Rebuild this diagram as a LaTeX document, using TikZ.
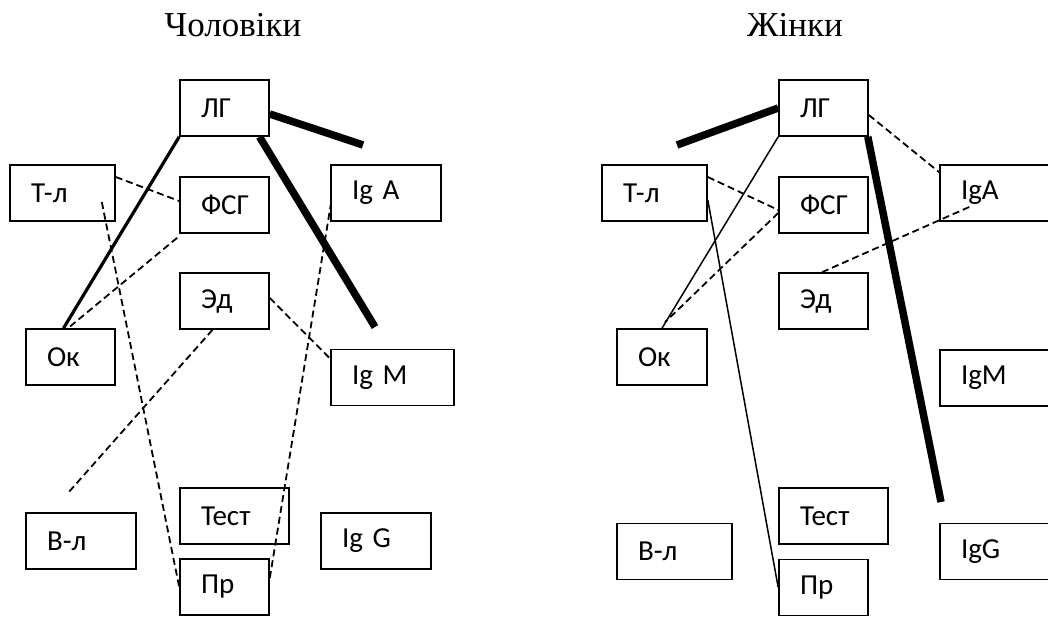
\documentclass[tikz,border=0pt]{standalone}
\usepackage{fontspec}
\setmainfont{Liberation Serif}
\newfontfamily\boxfont{Carlito}
\begin{document}
\begin{tikzpicture}[x=1bp,y=-1bp,
  bx/.style={draw, line width=1.6bp, minimum height=56bp, inner ysep=0pt, inner xsep=21bp, font=\boxfont\fontsize{29bp}{32bp}\selectfont, align=left},
  w89/.style={text width=47bp}, w105/.style={text width=63bp}, w110/.style={text width=68bp},
  w123/.style={text width=81bp}, w109/.style={text width=67bp}, w120/.style={text width=78bp},
  w90/.style={text width=48bp}, w115/.style={text width=73bp},
  ttl/.style={font=\fontsize{35bp}{40bp}\selectfont, inner sep=0pt},
  dsh/.style={line width=1.8bp, dash pattern=on 7bp off 4bp},
  thin/.style={line width=1.5bp},
  med/.style={line width=3.2bp},
  thk/.style={line width=7.5bp}]
\useasboundingbox (0,0) rectangle (1048,617);
% titles
\node[ttl] (t1) at (233,25) {Чоловіки};
\node[ttl] (t2) at (795,25) {Жінки};
% left panel
\node[bx,w89]  (LG)  at (224.5,108) {ЛГ};
\node[bx,w105] (Tl)  at (62.5,193) {Т-л};
\node[bx,w89]  (FSG) at (224.5,205) {ФСГ};
\node[bx,w110] (IgA) at (386,193) {Ig A};
\node[bx,w89]  (Ed)  at (224.5,301) {Эд};
\node[bx,w89]  (Ok)  at (70.5,357) {Ок};
\node[bx,w123] (IgM) at (392.5,377.5) {Ig M};
\node[bx,w110] (Vl)  at (81,541) {В-л};
\node[bx,w109] (Test) at (234.5,516) {Тест};
\node[bx,w110] (IgG) at (376,541) {Ig G};
\node[bx,w89]  (Pr)  at (224.5,587) {Пр};
\coordinate (fA) at (363,145);
\coordinate (fB) at (375,327);
\coordinate (fC) at (68,493);
\draw[thk] ([shift={(0,6)}]LG.east) -- (fA);
\draw[thk] ([shift={(35,0)}]LG.south) -- (fB);
\draw[med] (LG.south west) -- ([shift={(-7,0)}]Ok.north);
\draw[dsh] ([shift={(0,-16)}]Tl.east) -- ([shift={(0,-4)}]FSG.west);
\draw[dsh] ([shift={(-14,9)}]Tl.east) -- (Pr.west);
\draw[dsh] ([shift={(-2,4)}]FSG.south west) -- ([shift={(-2.5,0)}]Ok.north);
\draw[dsh] ([shift={(0,-3)}]Ed.east) -- ([shift={(0,10)}]IgM.north west);
\draw[dsh] ([shift={(-12,0)}]Ed.south) -- (fC);
\draw[dsh] ([shift={(1,9)}]IgA.west) -- ([shift={(0,-9)}]Pr.east);
% right panel
\node[bx,w89]  (LG2)  at (823.5,108) {ЛГ};
\node[bx,w105] (Tl2)  at (654.5,193) {Т-л};
\node[bx,w89]  (FSG2) at (823.5,205) {ФСГ};
\node[bx,w120] (IgA2) at (1000,193) {IgA};
\node[bx,w89]  (Ed2)  at (823.5,301) {Эд};
\node[bx,w90]  (Ok2)  at (662,357) {Ок};
\node[bx,w120] (IgM2) at (1000,378) {IgM};
\node[bx,w115] (Vl2)  at (674.5,551.5) {В-л};
\node[bx,w109] (Test2) at (833.5,516) {Тест};
\node[bx,w120] (IgG2) at (1000,551.5) {IgG};
\node[bx,w89]  (Pr2)  at (823.5,587.5) {Пр};
\coordinate (gA) at (677,145);
\coordinate (gB) at (941,502);
\draw[thk] (LG2.west) -- (gA);
\draw[thk] ([shift={(-1,0)}]LG2.south east) -- (gB);
\draw[thin] (LG2.south west) -- (Ok2.north);
\draw[thin] ([shift={(0,7)}]Tl2.east) -- (Pr2.west);
\draw[dsh] ([shift={(0,-16)}]Tl2.east) -- ([shift={(0,5)}]FSG2.west);
\draw[dsh] ([shift={(0,8)}]FSG2.west) -- ([shift={(3,-6)}]Ok2.north);
\draw[dsh] ([shift={(0,7)}]LG2.east) -- ([shift={(0,8)}]IgA2.north west);
\draw[dsh] ([shift={(30,14)}]IgA2.west) -- ([shift={(-1.5,0)}]Ed2.north);
\end{tikzpicture}
\end{document}
